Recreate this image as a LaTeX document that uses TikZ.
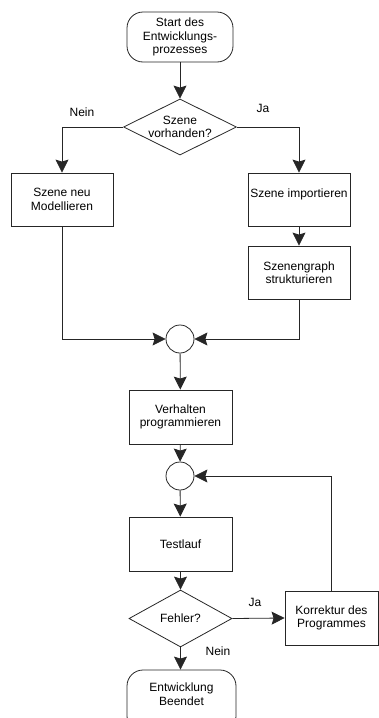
\documentclass[tikz,border=0pt]{standalone}
\usepackage{fontspec}
\setmainfont{Liberation Sans}
\usetikzlibrary{shapes.geometric,arrows.meta}
\begin{document}
\begin{tikzpicture}[x=1pt,y=-1pt,
  every node/.style={font=\fontsize{12}{13.5}\selectfont, align=center, text=black},
  line/.style={draw=black!85, line width=0.8pt},
  flow/.style={line, -{Stealth[length=13pt,width=13pt,inset=2pt]}},
  terminal/.style={line, rounded corners=16pt, inner sep=0pt},
  process/.style={line, rectangle, inner sep=0pt},
  decision/.style={line, diamond, aspect=2, inner sep=0pt},
  junction/.style={line, circle, minimum size=28pt, inner sep=0pt},
  label/.style={font=\fontsize{12}{13.5}\selectfont}]
\useasboundingbox (0,0) rectangle (379,718);
\begin{scope}
\clip (0,0) rectangle (379,718);

% nodes
\node[terminal, minimum width=106pt, minimum height=50pt] (start) at (180,37) {Start des\\Entwicklungs-\\prozesses};
\node[decision, minimum width=113pt, minimum height=56pt] (d1) at (180,127) {Szene\\vorhanden?};
\node[process, minimum width=102pt, minimum height=53pt] (neu) at (62,199.5) {Szene neu\\Modellieren};
\node[process, minimum width=102pt, minimum height=53pt] (imp) at (299,199.5) {Szene importieren\\\mbox{}};
\node[process, minimum width=102pt, minimum height=53pt] (graph) at (299,272.5) {Szenengraph\\strukturieren};
\node[junction] (c1) at (180,339) {};
\node[process, minimum width=103pt, minimum height=54pt] (verh) at (180.5,417) {Verhalten\\programmieren};
\node[junction] (c2) at (180,476) {};
\node[process, minimum width=103pt, minimum height=54pt] (test) at (180.5,544) {Testlauf};
\node[decision, minimum width=103pt, minimum height=57pt] (d2) at (180.5,618.5) {Fehler?};
\node[process, minimum width=93pt, minimum height=54pt] (kor) at (331.5,618) {Korrektur des\\Programmes};
\node[terminal, minimum width=109pt, minimum height=62pt] (ende) at (181.5,701) {Entwicklung\\Beendet\\\mbox{}};

% labels
\node[label] (lnein1) at (82,112) {Nein};
\node[label] (lja1) at (263,108) {Ja};
\node[label] (lja2) at (255,602) {Ja};
\node[label] (lnein2) at (218,651) {Nein};

% connectors
\draw[flow] (start) -- (d1);
\draw[flow] (d1.west) -| (neu.north);
\draw[flow] (d1.east) -| (imp.north);
\draw[flow] (imp) -- (graph);
\draw[flow] (neu.south) |- (c1.west);
\draw[flow] (graph.south) |- (c1.east);
\draw[flow] (c1) -- (verh);
\draw[flow] (verh) -- (c2);
\draw[flow] (c2) -- (test);
\draw[flow] (test) -- (d2);
\draw[flow] (d2.east) -- (kor.west);
\draw[flow] (kor.north) |- (c2.east);
\draw[flow] (d2.south) -- (ende.north -| d2.south);
\end{scope}
\end{tikzpicture}
\end{document}
